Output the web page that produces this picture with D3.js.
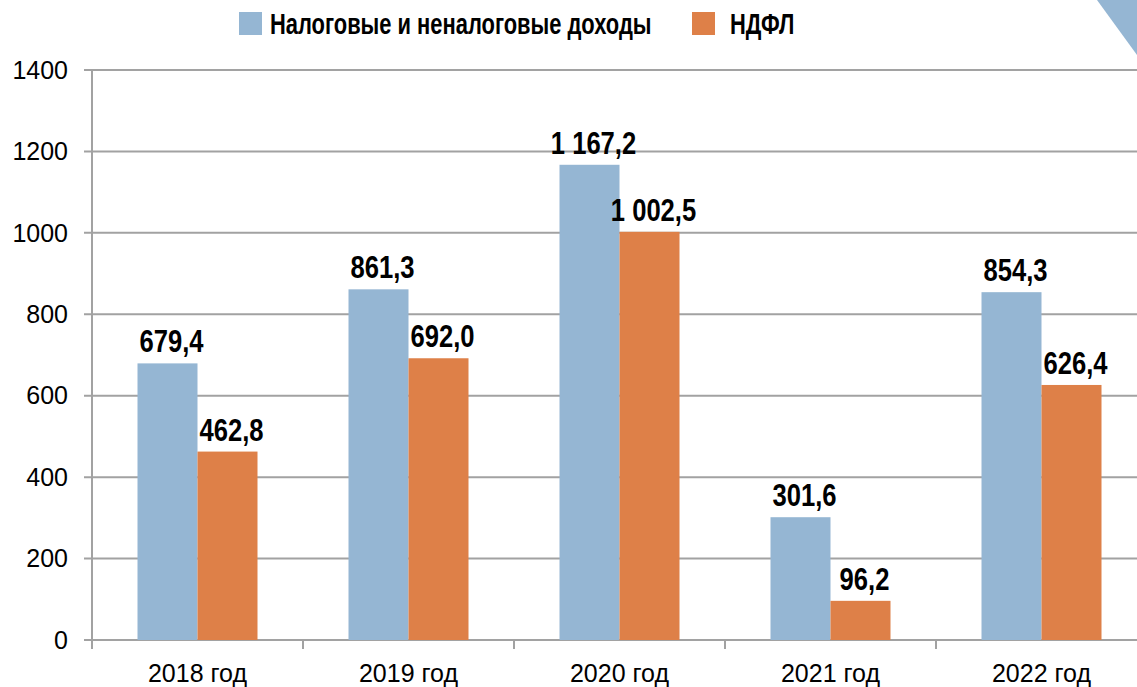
<!DOCTYPE html>
<html>
<head>
<meta charset="utf-8">
<script src="https://cdn.jsdelivr.net/npm/d3@7"></script>
<style>
  html, body { margin: 0; padding: 0; background: #fff; }
  .tick-label { font-family: "Liberation Sans", Arial, sans-serif; font-size: 25px; fill: #000; }
  .cat-label { font-family: "Liberation Sans", Arial, sans-serif; font-size: 25px; fill: #000; }
  .val-label, .legend-label { font-family: "Liberation Sans", Arial, sans-serif; font-weight: bold; fill: #000; }
</style>
</head>
<body>
<div id="grafica"></div>
<script>
// datos
const categorias = ["2018 год", "2019 год", "2020 год", "2021 год", "2022 год"];
const series = ["Налоговые и неналоговые доходы", "НДФЛ"];
const doxody = [679.4, 861.3, 1167.2, 301.6, 854.3];
const ndfl = [462.8, 692.0, 1002.5, 96.2, 626.4];
const yTicks = [0, 200, 400, 600, 800, 1000, 1200, 1400];

// parametros
const W = 1137, H = 687;
const plot = { left: 92, top: 70, bottom: 640, band: 211 };
const colores = ["#95b6d3", "#de8048"];
const gris = "#a2a2a2";
const estrechoValor = 0.8;   // compresion horizontal de las etiquetas de valor
const estrechoLeyenda = 0.73; // compresion horizontal de la leyenda

const fmt = v => {
  const s = v.toFixed(1).replace(".", ",");
  const [ent, dec] = s.split(",");
  return ent.replace(/\B(?=(\d{3})+(?!\d))/g, " ") + "," + dec;
};

const svg = d3.select("#grafica").append("svg")
  .attr("width", W)
  .attr("height", H);

const x = d3.scaleBand()
  .domain(categorias)
  .range([plot.left, plot.left + plot.band * categorias.length]);

const xSub = d3.scaleBand()
  .domain(series)
  .range([45.5, 165.5]);

const y = d3.scaleLinear()
  .domain([0, 1400])
  .range([plot.bottom, plot.top]);

// lineas de cuadricula
svg.append("g")
  .selectAll("line")
  .data(yTicks).enter()
  .append("line")
  .attr("x1", plot.left - 8)
  .attr("x2", W)
  .attr("y1", d => y(d))
  .attr("y2", d => y(d))
  .attr("stroke", gris)
  .attr("stroke-width", 2);

// etiquetas eje Y
svg.append("g")
  .selectAll("text")
  .data(yTicks).enter()
  .append("text")
  .attr("class", "tick-label")
  .attr("x", plot.left - 24)
  .attr("y", d => y(d))
  .attr("dy", "0.35em")
  .attr("text-anchor", "end")
  .text(d => d);

// eje Y
svg.append("line")
  .attr("x1", plot.left).attr("x2", plot.left)
  .attr("y1", y(1400)).attr("y2", plot.bottom + 9)
  .attr("stroke", gris)
  .attr("stroke-width", 2);

// marcas del eje X
const bordes = categorias.map(c => x(c) + x.bandwidth());
svg.append("g")
  .selectAll("line")
  .data(bordes).enter()
  .append("line")
  .attr("x1", d => d).attr("x2", d => d)
  .attr("y1", plot.bottom).attr("y2", plot.bottom + 9)
  .attr("stroke", gris)
  .attr("stroke-width", 2);

// etiquetas eje X
svg.append("g")
  .selectAll("text")
  .data(categorias).enter()
  .append("text")
  .attr("class", "cat-label")
  .attr("x", d => x(d) + x.bandwidth() / 2)
  .attr("y", 682)
  .attr("text-anchor", "middle")
  .text(d => d);

// barras
const datos = categorias.map((c, i) => ({ cat: c, values: [doxody[i], ndfl[i]] }));

const grupos = svg.append("g")
  .selectAll("g")
  .data(datos).enter()
  .append("g")
  .attr("transform", d => `translate(${x(d.cat)},0)`);

grupos.selectAll("rect")
  .data(d => d.values.map((v, j) => ({ serie: series[j], v, j }))).enter()
  .append("rect")
  .attr("x", d => xSub(d.serie))
  .attr("width", xSub.bandwidth())
  .attr("y", d => y(d.v))
  .attr("height", d => y(0) - y(d.v))
  .attr("fill", d => colores[d.j]);

grupos.selectAll("text")
  .data(d => d.values.map((v, j) => ({ serie: series[j], v, j }))).enter()
  .append("text")
  .attr("class", "val-label")
  .style("font-size", "32px")
  .attr("transform", d => `translate(${xSub(d.serie) + xSub.bandwidth() / 2 + 4},${y(d.v) - 11}) scale(${estrechoValor},1)`)
  .attr("text-anchor", "middle")
  .text(d => fmt(d.v));

// leyenda
const leyenda = svg.append("g");
const legX = [239, 692];
const legTextX = [270, 730];
series.forEach((s, i) => {
  leyenda.append("rect")
    .attr("x", legX[i]).attr("y", 12)
    .attr("width", 23).attr("height", 23)
    .attr("fill", colores[i]);
  leyenda.append("text")
    .attr("class", "legend-label")
    .style("font-size", "30px")
    .attr("transform", `translate(${legTextX[i]},34) scale(${estrechoLeyenda},1)`)
    .text(s);
});

// triangulo decorativo
svg.append("path")
  .attr("d", d3.line()([[1097, 0], [W, 0], [W, 55]]) + "Z")
  .attr("fill", colores[0]);
</script>
</body>
</html>
